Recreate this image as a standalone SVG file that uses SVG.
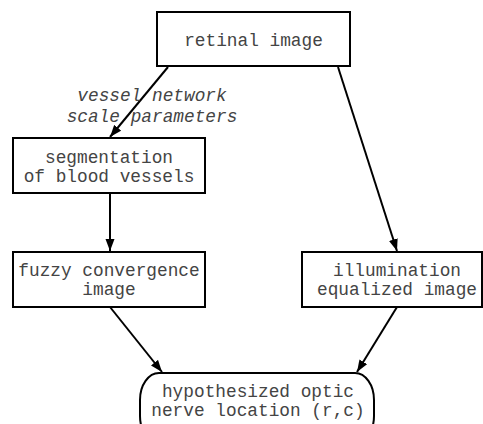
<svg xmlns="http://www.w3.org/2000/svg" width="483" height="424" viewBox="0 0 483 424">
<style>
.box{fill:#fff;stroke:#000;stroke-width:2}
.t{font-family:"Liberation Mono","Courier New",monospace;font-size:17.8px;fill:#444;text-anchor:middle}
.i{font-style:italic}
.e{stroke:#000;stroke-width:2;fill:none;marker-end:url(#ah)}
</style>
<defs>
<marker id="ah" viewBox="0 0 12 10" refX="12" refY="5" markerWidth="12" markerHeight="10" markerUnits="userSpaceOnUse" orient="auto">
<path d="M0,0.5 L12,5 L0,9.5 z" fill="#000"/>
</marker>
</defs>
<rect width="483" height="424" fill="#fff"/>
<g id="connectors">
<path class="e" d="M168,67 L110,137"/>
<path class="e" d="M338,67 L397,251"/>
<path class="e" d="M110,193 L110,251"/>
<path class="e" d="M110,307 L162,372"/>
<path class="e" d="M397,307 L357,372"/>
<text class="t i" x="152" y="101">vessel network</text>
<text class="t i" x="152" y="122">scale parameters</text>
</g>
<g id="retinal">
<rect class="box" x="157" y="12" width="193" height="54"/>
<text class="t" x="253.5" y="46">retinal image</text>
</g>
<g id="segmentation">
<rect class="box" x="13" y="138" width="192" height="55"/>
<text class="t" x="109" y="163">segmentation</text>
<text class="t" x="109" y="182">of blood vessels</text>
</g>
<g id="fuzzy">
<rect class="box" x="13" y="252" width="192" height="55"/>
<text class="t" x="109" y="276">fuzzy convergence</text>
<text class="t" x="109" y="295">image</text>
</g>
<g id="illumination">
<rect class="box" x="302" y="252" width="180" height="55"/>
<text class="t" x="397" y="276">illumination</text>
<text class="t" x="397" y="295">equalized image</text>
</g>
<g id="hypothesis">
<rect class="box" x="140" y="373" width="234" height="70" rx="19" ry="27"/>
<text class="t" x="258" y="397">hypothesized optic</text>
<text class="t" x="258" y="416">nerve location (r,c)</text>
</g>
</svg>
